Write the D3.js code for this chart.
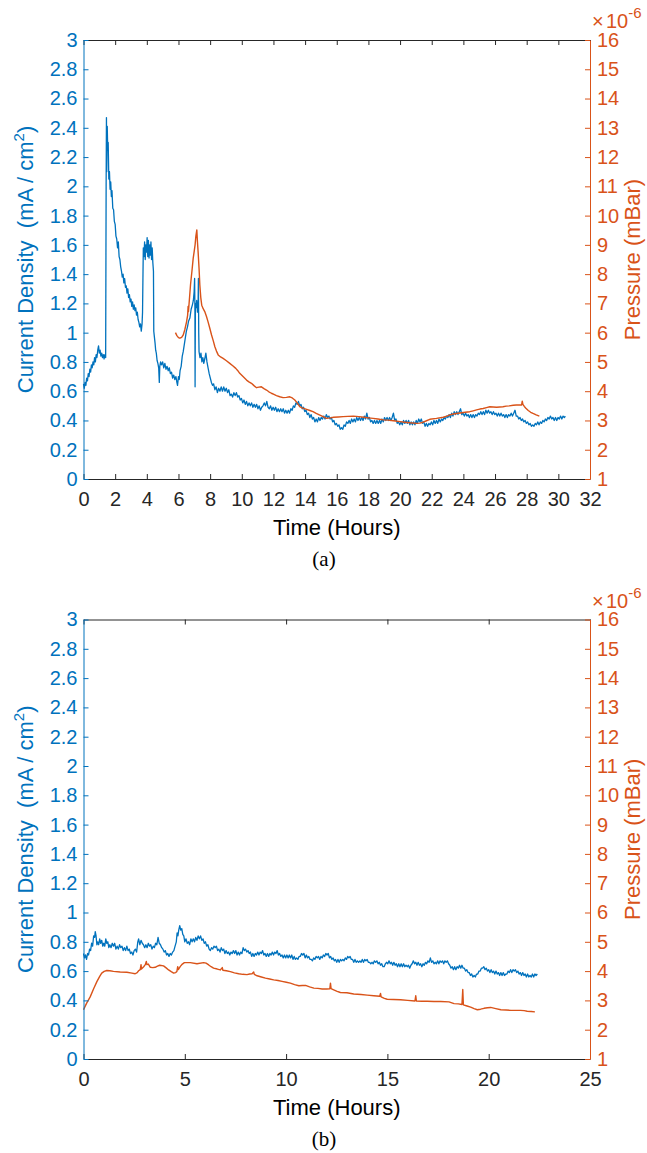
<!DOCTYPE html>
<html>
<head>
<meta charset="utf-8">
<script src="https://cdn.jsdelivr.net/npm/d3@7/dist/d3.min.js"></script>
<style>
  html, body { margin: 0; padding: 0; background: #ffffff; }
  svg { display: block; }
</style>
</head>
<body>
<svg id="fig" width="647" height="1153"></svg>
<script>
// ---------------------------------------------------------------
// Data: [time in hours, value]
// Current density in mA/cm^2, chamber pressure in units of 1e-6 mBar
// ---------------------------------------------------------------

// Run (a)
const currentA = [
  [0.00,0.65],[0.05,0.62],[0.10,0.66],[0.15,0.64],[0.20,0.69],[0.25,0.67],[0.30,0.72],[0.35,0.70],[0.40,0.75],[0.45,0.73],
  [0.50,0.78],[0.55,0.76],[0.60,0.80],[0.65,0.78],[0.70,0.83],[0.75,0.80],[0.80,0.85],[0.85,0.83],[0.90,0.88],[0.95,0.91],
  [1.00,0.86],[1.05,0.88],[1.10,0.84],[1.15,0.86],[1.20,0.83],[1.25,0.85],[1.30,0.82],[1.35,0.85],[1.40,0.83],[1.43,2.00],
  [1.45,2.47],[1.47,2.10],[1.50,2.41],[1.53,2.25],[1.56,2.30],[1.60,2.05],[1.64,2.10],[1.68,1.98],[1.72,2.03],[1.76,1.93],
  [1.80,1.97],[1.85,1.85],[1.90,1.84],[1.95,1.76],[2.00,1.74],[2.05,1.66],[2.10,1.64],[2.15,1.58],[2.20,1.62],[2.25,1.52],
  [2.30,1.50],[2.35,1.45],[2.40,1.42],[2.45,1.38],[2.50,1.40],[2.55,1.34],[2.60,1.37],[2.65,1.31],[2.70,1.32],[2.75,1.27],
  [2.80,1.30],[2.85,1.24],[2.90,1.26],[2.95,1.21],[3.00,1.23],[3.05,1.18],[3.10,1.21],[3.15,1.16],[3.20,1.19],[3.25,1.15],
  [3.30,1.17],[3.35,1.12],[3.40,1.14],[3.45,1.09],[3.50,1.07],[3.55,1.04],[3.60,1.06],[3.65,1.01],[3.70,1.06],[3.73,1.14],
  [3.76,1.42],[3.78,1.58],[3.82,1.52],[3.86,1.62],[3.90,1.50],[3.94,1.60],[3.98,1.55],[4.02,1.65],[4.06,1.52],[4.10,1.63],
  [4.14,1.51],[4.18,1.60],[4.22,1.53],[4.26,1.62],[4.30,1.50],[4.34,1.58],[4.38,1.48],[4.42,1.42],[4.44,1.01],[4.48,0.97],
  [4.52,0.93],[4.56,0.88],[4.60,0.86],[4.65,0.81],[4.70,0.79],[4.75,0.76],[4.79,0.66],[4.82,0.77],[4.87,0.80],[4.93,0.78],
  [5.00,0.80],[5.07,0.76],[5.14,0.79],[5.21,0.75],[5.28,0.77],[5.35,0.74],[5.42,0.76],[5.49,0.72],[5.56,0.73],[5.63,0.69],
  [5.70,0.71],[5.77,0.68],[5.84,0.70],[5.90,0.66],[5.94,0.64],[6.00,0.70],[6.05,0.68],[6.10,0.74],[6.17,0.77],[6.24,0.84],
  [6.30,0.87],[6.37,0.92],[6.44,0.97],[6.50,1.01],[6.57,1.04],[6.64,1.08],[6.72,1.10],[6.80,1.16],[6.88,1.19],[6.94,1.22],
  [6.99,1.28],[7.02,1.37],[7.04,1.15],[7.05,0.63],[7.07,1.20],[7.10,1.17],[7.15,1.22],[7.20,1.14],[7.24,1.20],[7.26,1.37],
  [7.28,1.00],[7.30,0.87],[7.36,0.83],[7.42,0.86],[7.48,0.80],[7.54,0.83],[7.60,0.79],[7.66,0.82],[7.73,0.86],[7.80,0.80],
  [7.87,0.76],[7.94,0.72],[8.01,0.69],[8.08,0.66],[8.15,0.64],[8.22,0.65],[8.30,0.61],[8.38,0.63],[8.46,0.59],[8.54,0.62],
  [8.62,0.60],[8.70,0.63],[8.78,0.60],[8.86,0.63],[8.94,0.60],[9.02,0.62],[9.10,0.59],[9.18,0.61],[9.26,0.57],[9.34,0.58],
  [9.42,0.56],[9.50,0.59],[9.58,0.57],[9.66,0.59],[9.74,0.56],[9.82,0.57],[9.90,0.54],[9.98,0.55],[10.06,0.52],[10.14,0.54],
  [10.22,0.51],[10.30,0.53],[10.38,0.50],[10.46,0.52],[10.54,0.50],[10.62,0.52],[10.70,0.49],[10.78,0.51],[10.86,0.49],[10.94,0.51],
  [11.02,0.48],[11.10,0.50],[11.18,0.47],[11.26,0.49],[11.34,0.50],[11.42,0.52],[11.50,0.50],[11.58,0.53],[11.66,0.49],[11.74,0.48],
  [11.82,0.50],[11.90,0.47],[11.98,0.49],[12.06,0.47],[12.14,0.49],[12.22,0.46],[12.30,0.48],[12.38,0.46],[12.46,0.48],[12.54,0.46],
  [12.62,0.48],[12.70,0.45],[12.78,0.47],[12.86,0.45],[12.94,0.47],[13.02,0.45],[13.10,0.48],[13.18,0.47],[13.26,0.50],[13.34,0.49],
  [13.42,0.52],[13.50,0.51],[13.58,0.53],[13.66,0.50],[13.74,0.51],[13.82,0.48],[13.90,0.49],[13.98,0.46],[14.06,0.47],[14.14,0.44],
  [14.22,0.45],[14.30,0.42],[14.38,0.44],[14.46,0.41],[14.54,0.42],[14.62,0.39],[14.70,0.41],[14.78,0.39],[14.86,0.42],[14.94,0.40],
  [15.02,0.42],[15.10,0.41],[15.18,0.43],[15.26,0.41],[15.34,0.44],[15.42,0.42],[15.50,0.43],[15.58,0.41],[15.66,0.42],[15.74,0.39],
  [15.82,0.40],[15.90,0.37],[15.98,0.38],[16.06,0.36],[16.14,0.37],[16.22,0.34],[16.30,0.35],[16.38,0.34],[16.46,0.37],[16.54,0.36],
  [16.62,0.39],[16.70,0.38],[16.78,0.40],[16.86,0.38],[16.94,0.41],[17.02,0.39],[17.10,0.41],[17.18,0.39],[17.26,0.42],[17.34,0.40],
  [17.42,0.42],[17.50,0.40],[17.58,0.42],[17.66,0.40],[17.74,0.43],[17.82,0.41],[17.90,0.45],[17.98,0.41],[18.06,0.42],[18.14,0.39],
  [18.22,0.40],[18.30,0.38],[18.38,0.40],[18.46,0.38],[18.54,0.40],[18.62,0.38],[18.70,0.40],[18.78,0.38],[18.86,0.41],[18.94,0.39],
  [19.02,0.42],[19.10,0.40],[19.18,0.42],[19.26,0.40],[19.34,0.42],[19.42,0.40],[19.50,0.42],[19.58,0.45],[19.66,0.40],[19.74,0.41],
  [19.82,0.38],[19.90,0.39],[19.98,0.37],[20.06,0.39],[20.14,0.37],[20.22,0.40],[20.30,0.38],[20.38,0.40],[20.46,0.38],[20.54,0.40],
  [20.62,0.37],[20.70,0.39],[20.78,0.37],[20.86,0.39],[20.94,0.37],[21.02,0.40],[21.10,0.38],[21.18,0.41],[21.26,0.39],[21.34,0.41],
  [21.42,0.38],[21.50,0.39],[21.58,0.36],[21.66,0.38],[21.74,0.36],[21.82,0.38],[21.90,0.37],[21.98,0.39],[22.06,0.37],[22.14,0.40],
  [22.22,0.38],[22.30,0.40],[22.38,0.38],[22.46,0.41],[22.54,0.39],[22.62,0.41],[22.70,0.40],[22.78,0.42],[22.86,0.41],[22.94,0.43],
  [23.02,0.42],[23.10,0.44],[23.18,0.42],[23.26,0.45],[23.34,0.43],[23.42,0.46],[23.50,0.44],[23.58,0.46],[23.66,0.44],[23.74,0.46],
  [23.82,0.48],[23.90,0.44],[23.98,0.45],[24.06,0.43],[24.14,0.45],[24.22,0.43],[24.30,0.44],[24.38,0.42],[24.46,0.44],[24.54,0.42],
  [24.62,0.44],[24.70,0.42],[24.78,0.44],[24.86,0.43],[24.94,0.45],[25.02,0.44],[25.10,0.46],[25.18,0.44],[25.26,0.46],[25.34,0.44],
  [25.42,0.47],[25.50,0.45],[25.58,0.47],[25.66,0.45],[25.74,0.46],[25.82,0.44],[25.90,0.46],[25.98,0.44],[26.06,0.45],[26.14,0.43],
  [26.22,0.45],[26.30,0.43],[26.38,0.45],[26.46,0.43],[26.54,0.44],[26.62,0.42],[26.70,0.44],[26.78,0.42],[26.86,0.44],[26.94,0.43],
  [27.02,0.45],[27.10,0.43],[27.18,0.45],[27.26,0.47],[27.34,0.43],[27.42,0.43],[27.50,0.41],[27.58,0.42],[27.66,0.40],[27.74,0.41],
  [27.82,0.39],[27.90,0.40],[27.98,0.38],[28.06,0.39],[28.14,0.37],[28.22,0.38],[28.30,0.36],[28.38,0.37],[28.46,0.36],[28.54,0.38],
  [28.62,0.37],[28.70,0.39],[28.78,0.37],[28.86,0.39],[28.94,0.38],[29.02,0.40],[29.10,0.39],[29.18,0.41],[29.26,0.40],[29.34,0.42],
  [29.42,0.41],[29.50,0.43],[29.58,0.41],[29.66,0.42],[29.74,0.40],[29.82,0.42],[29.90,0.40],[29.98,0.42],[30.06,0.41],[30.14,0.43],
  [30.22,0.41],[30.30,0.43],[30.38,0.42],[30.44,0.43]
];

const pressureA = [
  [5.81,6.00],[5.90,5.90],[6.00,5.83],[6.09,5.81],[6.20,5.84],[6.30,5.92],[6.40,6.10],[6.51,6.37],[6.58,6.60],[6.61,6.90],
  [6.63,6.72],[6.70,7.20],[6.76,7.63],[6.85,8.10],[6.93,8.54],[7.00,8.80],[7.05,9.00],[7.10,9.30],[7.16,9.51],[7.20,9.10],
  [7.24,8.77],[7.30,8.20],[7.35,7.63],[7.41,7.20],[7.47,6.94],[7.56,6.82],[7.66,6.72],[7.77,6.55],[7.87,6.37],[7.98,6.15],
  [8.09,5.92],[8.20,5.72],[8.30,5.52],[8.40,5.37],[8.51,5.24],[8.66,5.17],[8.82,5.12],[9.03,5.04],[9.24,4.95],[9.43,4.87],
  [9.62,4.78],[9.75,4.70],[9.87,4.61],[10.08,4.50],[10.30,4.38],[10.45,4.32],[10.61,4.27],[10.77,4.19],[10.93,4.12],[11.08,4.14],
  [11.24,4.15],[11.40,4.09],[11.56,4.04],[11.71,3.98],[11.87,3.93],[12.03,3.89],[12.19,3.85],[12.40,3.81],[12.61,3.78],[12.82,3.79],
  [13.03,3.81],[13.19,3.77],[13.35,3.70],[13.50,3.60],[13.66,3.47],[13.85,3.42],[14.10,3.38],[14.30,3.34],[14.50,3.30],[14.70,3.24],
  [14.90,3.19],[15.14,3.13],[15.36,3.07],[15.60,3.09],[15.80,3.11],[16.10,3.12],[16.40,3.13],[16.70,3.14],[17.05,3.15],[17.40,3.13],
  [17.70,3.11],[18.00,3.09],[18.30,3.07],[18.60,3.05],[18.94,3.02],[19.25,3.01],[19.57,2.99],[20.00,2.96],[20.30,2.94],[20.62,2.92],
  [21.04,2.90],[21.25,2.91],[21.46,2.94],[21.67,2.99],[21.88,3.04],[22.30,3.07],[22.73,3.11],[22.95,3.15],[23.15,3.19],[23.36,3.22],
  [23.57,3.24],[23.99,3.27],[24.40,3.30],[24.62,3.33],[24.83,3.36],[25.04,3.39],[25.25,3.41],[25.46,3.44],[25.67,3.47],[25.88,3.46],
  [26.10,3.45],[26.30,3.46],[26.50,3.47],[26.70,3.49],[26.90,3.50],[27.15,3.52],[27.35,3.53],[27.55,3.53],[27.68,3.53],[27.72,3.66],
  [27.76,3.55],[27.85,3.48],[27.95,3.42],[28.10,3.34],[28.25,3.28],[28.40,3.24],[28.60,3.19],[28.80,3.15]
];

// Run (b)
const currentB = [
  [0.00,0.72],[0.05,0.69],[0.10,0.71],[0.15,0.68],[0.20,0.72],[0.25,0.71],[0.30,0.75],[0.35,0.74],[0.40,0.79],[0.45,0.77],
  [0.50,0.84],[0.55,0.83],[0.58,0.87],[0.62,0.84],[0.66,0.78],[0.70,0.80],[0.75,0.78],[0.80,0.82],[0.85,0.79],[0.90,0.81],
  [0.95,0.77],[1.00,0.79],[1.05,0.77],[1.10,0.82],[1.15,0.79],[1.20,0.80],[1.25,0.76],[1.30,0.78],[1.36,0.76],[1.42,0.79],
  [1.48,0.77],[1.54,0.79],[1.60,0.75],[1.66,0.77],[1.72,0.75],[1.78,0.78],[1.84,0.76],[1.90,0.77],[1.96,0.74],[2.02,0.76],
  [2.08,0.74],[2.14,0.77],[2.20,0.74],[2.26,0.75],[2.32,0.72],[2.38,0.73],[2.44,0.71],[2.50,0.74],[2.56,0.75],[2.62,0.73],
  [2.68,0.80],[2.72,0.82],[2.78,0.78],[2.84,0.81],[2.90,0.79],[2.96,0.78],[3.02,0.76],[3.08,0.78],[3.14,0.76],[3.20,0.79],
  [3.26,0.77],[3.32,0.78],[3.38,0.75],[3.44,0.77],[3.50,0.76],[3.56,0.79],[3.62,0.78],[3.68,0.83],[3.74,0.79],[3.80,0.78],
  [3.86,0.76],[3.92,0.75],[3.98,0.73],[4.04,0.74],[4.10,0.71],[4.16,0.72],[4.22,0.70],[4.28,0.72],[4.34,0.71],[4.40,0.73],
  [4.46,0.74],[4.52,0.77],[4.58,0.80],[4.62,0.86],[4.66,0.84],[4.70,0.88],[4.75,0.91],[4.80,0.88],[4.85,0.89],[4.90,0.85],
  [4.95,0.84],[5.00,0.80],[5.06,0.82],[5.12,0.79],[5.18,0.80],[5.24,0.78],[5.30,0.82],[5.36,0.80],[5.42,0.82],[5.48,0.80],
  [5.54,0.83],[5.60,0.81],[5.66,0.84],[5.72,0.82],[5.78,0.84],[5.84,0.81],[5.90,0.82],[5.96,0.79],[6.02,0.80],[6.08,0.77],
  [6.14,0.78],[6.20,0.75],[6.26,0.74],[6.32,0.76],[6.38,0.75],[6.44,0.77],[6.50,0.76],[6.56,0.77],[6.62,0.74],[6.68,0.75],
  [6.74,0.73],[6.80,0.76],[6.86,0.74],[6.92,0.75],[6.98,0.72],[7.04,0.74],[7.10,0.72],[7.16,0.73],[7.22,0.71],[7.28,0.73],
  [7.34,0.72],[7.40,0.74],[7.46,0.72],[7.52,0.74],[7.58,0.71],[7.64,0.73],[7.70,0.71],[7.76,0.73],[7.82,0.72],[7.88,0.76],
  [7.94,0.74],[8.00,0.75],[8.06,0.73],[8.12,0.74],[8.18,0.72],[8.24,0.73],[8.30,0.70],[8.36,0.72],[8.42,0.70],[8.48,0.72],
  [8.54,0.71],[8.60,0.73],[8.66,0.71],[8.72,0.73],[8.78,0.72],[8.84,0.74],[8.90,0.71],[8.96,0.72],[9.02,0.70],[9.08,0.72],
  [9.14,0.70],[9.20,0.72],[9.26,0.71],[9.32,0.73],[9.38,0.71],[9.44,0.73],[9.50,0.72],[9.56,0.74],[9.62,0.71],[9.68,0.72],
  [9.74,0.70],[9.80,0.71],[9.86,0.69],[9.92,0.71],[9.98,0.69],[10.04,0.71],[10.10,0.69],[10.16,0.71],[10.22,0.69],[10.28,0.71],
  [10.34,0.68],[10.40,0.70],[10.46,0.68],[10.52,0.69],[10.58,0.68],[10.64,0.70],[10.70,0.70],[10.76,0.72],[10.82,0.71],[10.88,0.72],
  [10.94,0.69],[11.00,0.71],[11.06,0.69],[11.12,0.70],[11.18,0.68],[11.24,0.68],[11.30,0.67],[11.36,0.69],[11.42,0.68],[11.48,0.70],
  [11.54,0.69],[11.60,0.70],[11.66,0.68],[11.72,0.70],[11.78,0.69],[11.84,0.71],[11.90,0.70],[11.96,0.72],[12.02,0.71],[12.08,0.72],
  [12.14,0.69],[12.20,0.70],[12.26,0.68],[12.32,0.69],[12.38,0.67],[12.44,0.68],[12.50,0.66],[12.56,0.68],[12.62,0.66],[12.68,0.68],
  [12.74,0.67],[12.80,0.68],[12.86,0.67],[12.92,0.69],[12.98,0.68],[13.04,0.70],[13.10,0.69],[13.16,0.70],[13.22,0.68],[13.28,0.68],
  [13.34,0.66],[13.40,0.68],[13.46,0.66],[13.52,0.67],[13.58,0.66],[13.64,0.67],[13.70,0.66],[13.76,0.68],[13.82,0.66],[13.88,0.68],
  [13.94,0.67],[14.00,0.68],[14.06,0.66],[14.12,0.66],[14.18,0.65],[14.24,0.66],[14.30,0.65],[14.36,0.67],[14.42,0.66],[14.48,0.67],
  [14.54,0.65],[14.60,0.66],[14.66,0.64],[14.72,0.65],[14.78,0.63],[14.84,0.63],[14.90,0.65],[14.96,0.66],[15.02,0.65],[15.08,0.67],
  [15.14,0.65],[15.20,0.66],[15.26,0.64],[15.32,0.66],[15.38,0.64],[15.44,0.65],[15.50,0.63],[15.56,0.65],[15.62,0.63],[15.68,0.65],
  [15.74,0.63],[15.80,0.65],[15.86,0.63],[15.92,0.64],[15.98,0.63],[16.04,0.64],[16.10,0.62],[16.16,0.64],[16.22,0.65],[16.28,0.67],
  [16.34,0.65],[16.40,0.66],[16.46,0.64],[16.52,0.66],[16.58,0.64],[16.64,0.65],[16.70,0.63],[16.76,0.65],[16.82,0.64],[16.88,0.66],
  [16.94,0.65],[17.00,0.67],[17.06,0.66],[17.12,0.69],[17.18,0.66],[17.24,0.67],[17.30,0.65],[17.36,0.66],[17.42,0.65],[17.48,0.67],
  [17.54,0.65],[17.60,0.67],[17.66,0.66],[17.72,0.67],[17.78,0.65],[17.84,0.67],[17.90,0.66],[17.96,0.67],[18.02,0.65],[18.08,0.64],
  [18.14,0.62],[18.20,0.63],[18.26,0.61],[18.32,0.63],[18.38,0.61],[18.44,0.63],[18.50,0.62],[18.56,0.64],[18.62,0.62],[18.68,0.64],
  [18.74,0.62],[18.80,0.62],[18.86,0.60],[18.92,0.61],[18.98,0.59],[19.04,0.59],[19.10,0.57],[19.16,0.58],[19.22,0.56],[19.28,0.57],
  [19.34,0.56],[19.40,0.58],[19.46,0.58],[19.52,0.60],[19.58,0.60],[19.64,0.62],[19.70,0.62],[19.76,0.63],[19.82,0.61],[19.88,0.62],
  [19.94,0.60],[20.00,0.61],[20.06,0.59],[20.12,0.61],[20.18,0.59],[20.24,0.60],[20.30,0.58],[20.36,0.60],[20.42,0.58],[20.48,0.59],
  [20.54,0.57],[20.60,0.59],[20.66,0.57],[20.72,0.59],[20.78,0.57],[20.84,0.58],[20.90,0.58],[20.96,0.60],[21.02,0.59],[21.08,0.61],
  [21.14,0.59],[21.20,0.61],[21.26,0.60],[21.32,0.61],[21.38,0.59],[21.44,0.60],[21.50,0.58],[21.56,0.59],[21.62,0.57],[21.68,0.59],
  [21.74,0.57],[21.80,0.58],[21.86,0.56],[21.92,0.58],[21.98,0.56],[22.04,0.57],[22.10,0.56],[22.16,0.58],[22.22,0.56],[22.28,0.58],
  [22.34,0.57],[22.40,0.58]
];

const pressureB = [
  [0.00,2.68],[0.15,2.90],[0.33,3.12],[0.50,3.40],[0.66,3.64],[0.80,3.82],[0.90,3.93],[1.02,3.99],[1.15,4.02],[1.30,4.01],
  [1.48,3.99],[1.81,3.97],[2.14,3.96],[2.39,3.93],[2.55,3.91],[2.65,3.95],[2.72,4.01],[2.80,4.05],[2.84,4.22],[2.86,4.07],
  [2.97,4.15],[3.05,4.22],[3.10,4.33],[3.13,4.22],[3.20,4.24],[3.30,4.13],[3.42,4.12],[3.54,4.13],[3.65,4.17],[3.76,4.20],
  [3.95,4.18],[4.08,4.11],[4.20,4.04],[4.33,3.98],[4.45,3.93],[4.55,3.95],[4.61,3.99],[4.65,4.15],[4.68,4.05],[4.78,4.16],
  [4.88,4.24],[4.98,4.29],[5.27,4.29],[5.60,4.25],[5.93,4.29],[6.05,4.27],[6.18,4.21],[6.30,4.15],[6.42,4.10],[6.60,4.07],
  [6.75,4.04],[6.85,4.12],[6.88,4.03],[7.05,4.01],[7.25,3.98],[7.45,3.94],[7.66,3.91],[7.86,3.89],[8.07,3.88],[8.20,3.90],
  [8.32,3.91],[8.40,3.97],[8.43,3.89],[8.57,3.84],[8.78,3.80],[8.98,3.76],[9.19,3.73],[9.39,3.70],[9.60,3.68],[9.80,3.65],
  [10.01,3.62],[10.21,3.59],[10.42,3.54],[10.63,3.50],[10.80,3.51],[10.96,3.51],[11.16,3.46],[11.37,3.42],[11.57,3.41],[11.78,3.39],
  [12.00,3.39],[12.16,3.40],[12.19,3.59],[12.22,3.40],[12.35,3.36],[12.52,3.31],[12.68,3.27],[13.00,3.26],[13.34,3.22],[13.70,3.20],
  [14.00,3.18],[14.33,3.16],[14.62,3.14],[14.66,3.24],[14.69,3.12],[14.85,3.07],[14.99,3.04],[15.30,3.03],[15.65,3.02],[16.00,3.00],
  [16.36,2.98],[16.40,3.16],[16.43,2.98],[16.70,2.97],[16.97,2.97],[17.30,2.96],[17.63,2.96],[18.04,2.95],[18.29,2.89],[18.50,2.88],
  [18.68,2.86],[18.72,3.37],[18.75,2.85],[18.93,2.81],[19.11,2.77],[19.28,2.72],[19.44,2.68],[19.60,2.70],[19.77,2.73],[19.94,2.75],
  [20.10,2.76],[20.35,2.72],[20.60,2.68],[20.85,2.67],[21.10,2.66],[21.35,2.66],[21.57,2.66],[21.75,2.65],[21.90,2.63],[22.10,2.62],
  [22.28,2.61]
];

// Axis ticks
const currentTicks  = [0, 0.2, 0.4, 0.6, 0.8, 1, 1.2, 1.4, 1.6, 1.8, 2, 2.2, 2.4, 2.6, 2.8, 3];
const pressureTicks = [1, 2, 3, 4, 5, 6, 7, 8, 9, 10, 11, 12, 13, 14, 15, 16];
const timeTicksA    = [0, 2, 4, 6, 8, 10, 12, 14, 16, 18, 20, 22, 24, 26, 28, 30, 32];
const timeTicksB    = [0, 5, 10, 15, 20, 25];

// ---------------------------------------------------------------
const BLUE = "#0072BD";
const ORANGE = "#D95319";
const INK = "#262626";
const SANS = "'Liberation Sans', Arial, Helvetica, sans-serif";
const SERIF = "'Liberation Serif', 'Times New Roman', serif";
const TICK_PX = 20;
const LABEL_PX = 22;

const svg = d3.select("#fig");

function drawPanel(p) {
  const g = svg.append("g");
  const x = d3.scaleLinear().domain(p.xDomain).range([p.left, p.right]);
  const y = d3.scaleLinear().domain([0, 3]).range([p.bottom, p.top]);
  const yP = d3.scaleLinear().domain([1, 16]).range([p.bottom, p.top]);
  const fmt = d => String(+d.toFixed(1));

  // traces
  const lineC = d3.line().x(d => x(d[0])).y(d => y(d[1]));
  const lineP = d3.line().x(d => x(d[0])).y(d => yP(d[1]));

  g.append("path").datum(p.current)
    .attr("d", lineC).attr("fill", "none")
    .attr("stroke", BLUE).attr("stroke-width", 1.3)
    .attr("stroke-linejoin", "round");

  g.append("path").datum(p.pressure)
    .attr("d", lineP).attr("fill", "none")
    .attr("stroke", ORANGE).attr("stroke-width", 1.4)
    .attr("stroke-linejoin", "round");

  // x axes (bottom with labels, top ticks only)
  const xb = g.append("g").attr("transform", `translate(0,${p.bottom})`)
    .call(d3.axisBottom(x).tickValues(p.timeTicks).tickFormat(fmt)
      .tickSize(-5).tickSizeOuter(0).tickPadding(13));
  const xt = g.append("g").attr("transform", `translate(0,${p.top})`)
    .call(d3.axisTop(x).tickValues(p.timeTicks).tickFormat("")
      .tickSize(-5).tickSizeOuter(0));
  [xb, xt].forEach(a => {
    a.select(".domain").attr("stroke", INK);
    a.selectAll(".tick line").attr("stroke", INK);
    a.selectAll("text").attr("fill", INK)
      .style("font-family", SANS).style("font-size", TICK_PX + "px");
  });

  // left axis: current density
  const yl = g.append("g").attr("transform", `translate(${p.left},0)`)
    .call(d3.axisLeft(y).tickValues(currentTicks).tickFormat(fmt)
      .tickSize(-5).tickSizeOuter(0).tickPadding(6));
  yl.select(".domain").attr("stroke", BLUE);
  yl.selectAll(".tick line").attr("stroke", BLUE);
  yl.selectAll("text").attr("fill", BLUE)
    .style("font-family", SANS).style("font-size", TICK_PX + "px");

  // right axis: pressure
  const yr = g.append("g").attr("transform", `translate(${p.right},0)`)
    .call(d3.axisRight(yP).tickValues(pressureTicks).tickFormat(d3.format("d"))
      .tickSize(-5).tickSizeOuter(0).tickPadding(7));
  yr.select(".domain").attr("stroke", ORANGE);
  yr.selectAll(".tick line").attr("stroke", ORANGE);
  yr.selectAll("text").attr("fill", ORANGE)
    .style("font-family", SANS).style("font-size", TICK_PX + "px");

  // exponent marker above the right axis
  const ex = g.append("text")
    .attr("x", p.right + 2).attr("y", p.top - 12)
    .attr("fill", ORANGE).style("font-family", SANS).style("font-size", TICK_PX + "px");
  ex.append("tspan").text("\u00D7");
  ex.append("tspan").attr("x", p.right + 16).text("10");
  ex.append("tspan").attr("dy", -10).style("font-size", "15px").text("-6");

  const midY = (p.top + p.bottom) / 2;
  const midX = (p.left + p.right) / 2;

  // axis titles
  const lt = g.append("text")
    .attr("transform", `translate(33,${midY}) rotate(-90)`)
    .attr("text-anchor", "middle").attr("fill", BLUE)
    .style("font-family", SANS).style("font-size", LABEL_PX + "px")
    .style("white-space", "pre");
  lt.append("tspan").text("Current Density  (mA / cm");
  lt.append("tspan").attr("dy", -9).style("font-size", "15px").text("2");
  lt.append("tspan").attr("dy", 9).text(")");

  g.append("text")
    .attr("transform", `translate(640,${midY}) rotate(-90)`)
    .attr("text-anchor", "middle").attr("fill", ORANGE)
    .style("font-family", SANS).style("font-size", LABEL_PX + "px")
    .text("Pressure (mBar)");

  g.append("text")
    .attr("x", midX).attr("y", p.bottom + 56)
    .attr("text-anchor", "middle").attr("fill", "#000")
    .style("font-family", SANS).style("font-size", LABEL_PX + "px")
    .text("Time (Hours)");

  g.append("text")
    .attr("x", 324).attr("y", p.bottom + 87)
    .attr("text-anchor", "middle").attr("fill", "#000")
    .style("font-family", SERIF).style("font-size", "21px")
    .text(p.caption);
}

drawPanel({
  top: 40, bottom: 479, left: 83.5, right: 590,
  xDomain: [0, 32], timeTicks: timeTicksA,
  current: currentA, pressure: pressureA, caption: "(a)"
});

drawPanel({
  top: 619.5, bottom: 1059, left: 83.5, right: 590,
  xDomain: [0, 25], timeTicks: timeTicksB,
  current: currentB, pressure: pressureB, caption: "(b)"
});
</script>
</body>
</html>
